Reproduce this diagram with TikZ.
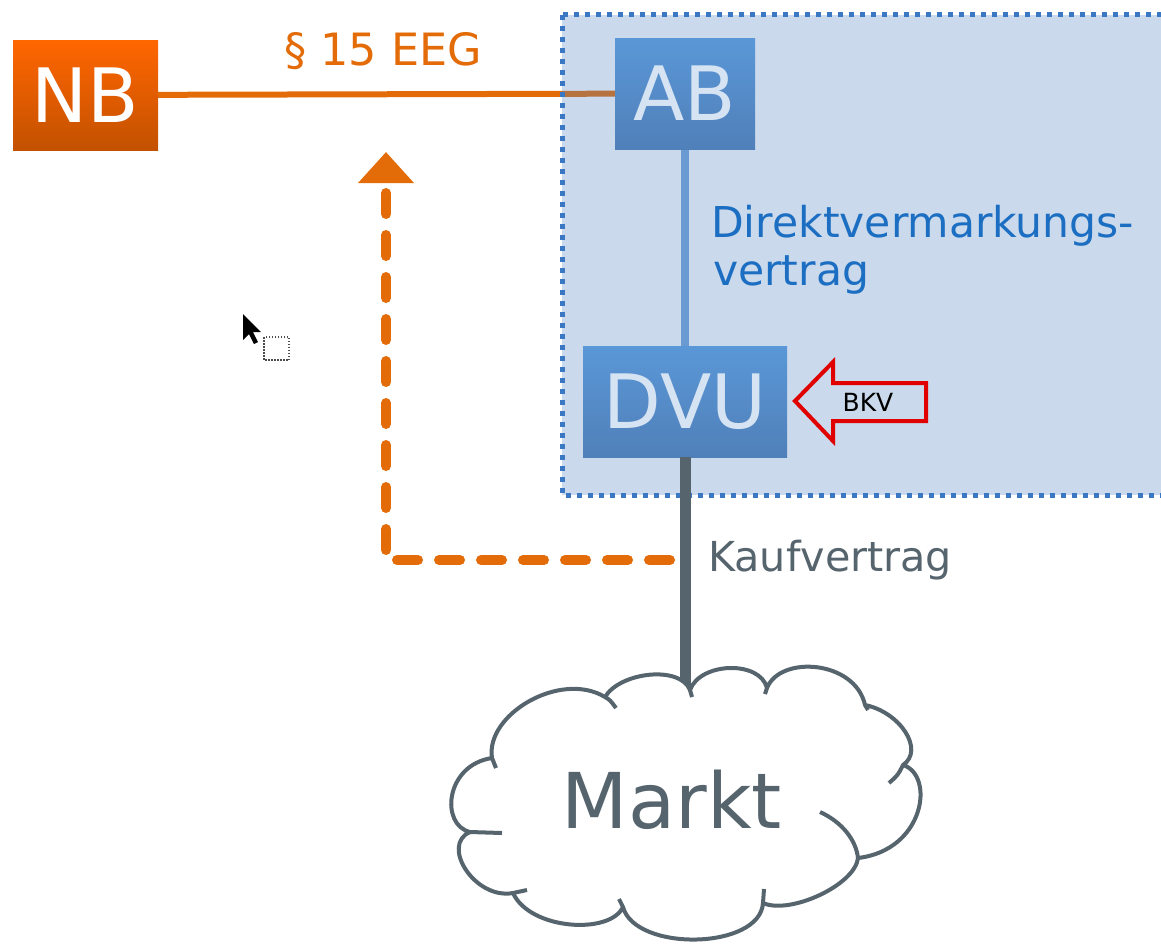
\documentclass[tikz,border=0pt]{standalone}
\usepackage{fontspec}
\setmainfont{DejaVu Sans}
\usetikzlibrary{arrows.meta}
\definecolor{nborange}{HTML}{E36C09}
\definecolor{nbtop}{HTML}{FF6600}
\definecolor{nbbot}{HTML}{C35100}
\definecolor{abtop}{HTML}{5A97D7}
\definecolor{abbot}{HTML}{5080B9}
\definecolor{abtext}{HTML}{D5E3F3}
\definecolor{boxblue}{HTML}{4F81BD}
\definecolor{framecol}{HTML}{3B78C3}
\definecolor{ablinecol}{HTML}{6A9AD2}
\definecolor{slate}{HTML}{56646E}
\definecolor{dvblue}{HTML}{1B6EC2}
\definecolor{bkvred}{HTML}{E00000}
\pgfdeclarelayer{bottom}
\pgfdeclarelayer{background}
\pgfsetlayers{bottom,background,main}
\begin{document}
\begin{tikzpicture}[x=1pt,y=-1pt,
  bigfont/.style={font=\fontsize{75}{75}\selectfont},
  nbbox/.style={rectangle, inner sep=0pt, top color=nbtop, bottom color=nbbot, text=white, bigfont},
  bluebox/.style={rectangle, inner sep=0pt, top color=abtop, bottom color=abbot, text=abtext, bigfont},
  nbline/.style={draw=nborange, line width=6pt},
  frame/.style={draw=framecol, line width=5pt, dash pattern=on 5.5pt off 5.5pt, fill=boxblue, fill opacity=0.3},
  abline/.style={draw=ablinecol, line width=8pt},
  grayline/.style={draw=slate, line width=11pt},
  dasharrow/.style={draw=nborange, line width=10pt, line cap=round, dash pattern=on 21pt off 21pt, -{Triangle[length=31pt,width=54pt]}},
  cloudline/.style={draw=slate, line width=4pt, line join=round},
  bkvarrow/.style={draw=bkvred, line width=4pt, line join=miter},
  dvfont/.style={font=\fontsize{42.5}{42.5}\selectfont, text=dvblue, anchor=base west, inner sep=0pt},
]
\useasboundingbox (0,0) rectangle (1161,943);

% main boxes
\node[nbbox, minimum width=145pt, minimum height=110pt] (NB) at (85.5,95) {NB};
\node[bluebox, minimum width=140pt, minimum height=111pt] (AB) at (685,93.5) {AB};
\node[bluebox, minimum width=204pt, minimum height=111pt] (DVU) at (685,401.5) {DVU};

\begin{pgfonlayer}{bottom}
  \draw[nbline] (NB) -- (AB);
\end{pgfonlayer}
\begin{pgfonlayer}{background}
  \draw[frame] (562,14.5) rectangle (1190,495);
  \draw[abline] (AB) -- (DVU);
\end{pgfonlayer}

% labels
\node[font=\fontsize{44.5}{44.5}\selectfont, text=nborange, anchor=base, inner sep=0pt] (eeg) at (383,65) {§ 15 EEG};
\node[dvfont] (dv1) at (711,237) {Direktvermarkungs-};
\node[dvfont] (dv2) at (713,285) {vertrag};
\node[font=\fontsize{41.3}{41.3}\selectfont, text=slate, anchor=base west, inner sep=0pt] (kauf) at (708,571) {Kaufvertrag};

% dashed arrow
\coordinate (kv) at (670,560);
\coordinate (up) at (386,152);
\draw[dasharrow] (kv) -| (up);

% BKV arrow
\draw[bkvarrow] (795,401) -- (833,362) -- (833,383) -- (926,383) -- (926,421) -- (833,421) -- (833,441) -- cycle;
\node[font=\fontsize{25}{25}\selectfont, text=black, anchor=base, inner sep=0pt] (BKV) at (868,411) {BKV};

% line to market
\coordinate (cloudtop) at (685,700);
\draw[grayline] (DVU) -- (cloudtop);

% cloud
\draw[cloudline, fill=white] (690,690)
  .. controls (700,662) and (760,660) .. (767,688)
  .. controls (780,655) and (855,660) .. (865,705)
  .. controls (900,712) and (925,750) .. (903,765)
  .. controls (935,775) and (925,850) .. (858,858)
  .. controls (855,885) and (790,915) .. (763,903)
  .. controls (760,950) and (635,952) .. (623,907)
  .. controls (610,935) and (530,930) .. (513,893)
  .. controls (475,900) and (440,845) .. (470,832)
  .. controls (440,825) and (445,765) .. (492,758)
  .. controls (485,715) and (560,670) .. (605,697)
  .. controls (620,672) and (680,665) .. (690,690) -- cycle;
\draw[cloudline] (605,697) .. controls (610,700) .. (616,708);
\draw[cloudline] (690,690) -- (692,697);
\draw[cloudline] (767,688) -- (765,694);
\draw[cloudline] (865,705) -- (868,710);
\draw[cloudline] (903,765) .. controls (898,775) .. (889,783);
\draw[cloudline] (820,812) .. controls (842,822) and (856,840) .. (858,858);
\draw[cloudline] (763,903) -- (764,889);
\draw[cloudline] (623,907) -- (619,899);
\draw[cloudline] (513,893) -- (527,890);
\draw[cloudline] (470,832) -- (502,833);
\draw[cloudline] (492,758) -- (496,768);
\node[font=\fontsize{77}{77}\selectfont, text=slate, anchor=base, inner sep=0pt] (markt) at (672,828) {Markt};

% mouse cursor
\fill[black] (243,314) -- (243,340) -- (249,334) -- (254,344) -- (258,342) -- (253,332) -- (261,332) -- cycle;
\draw[draw=black!70, line width=1.5pt, dash pattern=on 1.5pt off 1.5pt] (264,337) rectangle (289,360);
\end{tikzpicture}
\end{document}
